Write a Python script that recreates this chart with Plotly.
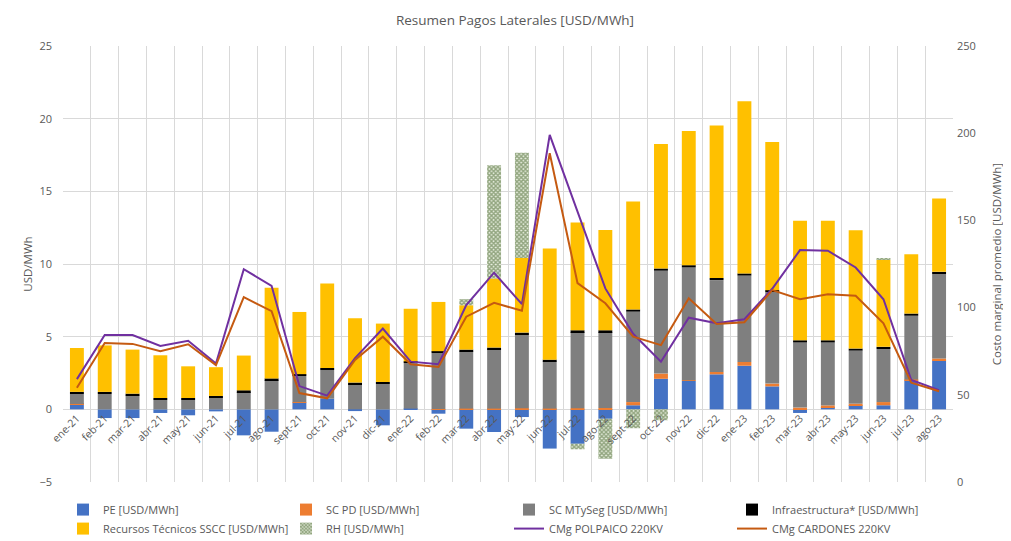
import plotly.graph_objects as go

categories = ['ene-21','feb-21','mar-21','abr-21','may-21','jun-21','jul-21','ago-21','sept-21','oct-21','nov-21','dic-21',
              'ene-22','feb-22','mar-22','abr-22','may-22','jun-22','jul-22','ago-22','sept-22','oct-22','nov-22','dic-22',
              'ene-23','feb-23','mar-23','abr-23','may-23','jun-23','jul-23','ago-23']

pe = [0.35,-0.6,-0.6,-0.25,-0.41,-0.14,-1.79,-1.54,0.48,0.73,-0.12,-1.1,
      0.05,-0.3,-1.33,-1.56,-0.53,-2.7,-2.37,-0.65,0.28,2.1,1.95,2.41,
      3.0,1.58,-0.25,0.15,0.28,0.28,2.0,3.37]
sc_pd = [0.02,0,0,0,0,0,0,0,0.02,0,0,0,
         0,0.02,0.05,0.05,0.08,0.05,0.08,0.1,0.22,0.36,0.05,0.16,
         0.26,0.19,0.12,0.12,0.11,0.22,0.05,0.13]
sc_mtyseg = [0.68,1.05,0.95,0.65,0.65,0.8,1.19,2.0,1.8,1.97,1.72,1.76,
             3.17,3.86,3.94,4.08,5.07,3.25,5.24,5.22,6.22,7.08,7.77,6.32,
             5.94,6.31,4.48,4.33,3.65,3.65,4.39,5.81]
infra = [0.15,0.15,0.13,0.13,0.13,0.12,0.12,0.13,0.12,0.15,0.12,0.12,
         0.08,0.12,0.12,0.12,0.13,0.12,0.12,0.12,0.15,0.15,0.15,0.15,
         0.15,0.12,0.15,0.15,0.14,0.15,0.15,0.15]
rec_tec = [3.02,3.2,3.03,2.94,2.18,1.98,2.39,6.24,4.28,5.8,4.43,4.02,
           3.62,3.39,3.05,4.75,5.14,7.65,7.41,6.9,7.43,8.56,9.23,10.49,
           11.85,10.2,8.22,8.22,8.15,6.0,4.08,5.04]
rh = [0,0,0,0,0,0,0,0,0,0,0,0,
      0,0,0.42,7.8,7.23,0,-0.38,-2.75,-1.3,-0.75,0,0,
      0,0,0,0,0,0.05,0,0]
cmg_polpaico = [59,84.3,84.3,78,81,68,122,112.5,55,49.5,71,88,
                69,67.5,101.5,120,102,199,155,111,85,69,94.2,91,
                93.3,110.8,133,132.6,123,104.8,58.5,52.7]
cmg_cardones = [54,79.7,79.2,75,79,67,106,98,51,48,70,83.3,
                67.5,66,94.8,102.7,98.2,188.5,114,102.5,83.3,78.5,105.3,90.6,
                91.6,110,104.8,107.6,106.8,91,57,52]

left_ticks = [-5, 0, 5, 10, 15, 20, 25]
right_ticks = [0, 50, 100, 150, 200, 250]

FONT = "Open Sans"
TXT = "#595959"
W, H = 1003, 533  # page body adds an 8px offset

fig = go.Figure()
bar_specs = [
    ("PE [USD/MWh]", pe, "#4472C4"),
    ("SC PD [USD/MWh]", sc_pd, "#ED7D31"),
    ("SC MTySeg [USD/MWh]", sc_mtyseg, "#7F7F7F"),
    ("Infraestructura* [USD/MWh]", infra, "#000000"),
    ("Recursos Técnicos SSCC [USD/MWh]", rec_tec, "#FFC000"),
]
for name, vals, col in bar_specs:
    fig.add_trace(go.Bar(x=categories, y=vals, name=name, marker_color=col,
                         marker_line_width=0, yaxis="y"))
fig.add_trace(go.Bar(x=categories, y=rh, name="RH [USD/MWh]", yaxis="y",
                     marker=dict(color="#ffffff", line_width=0,
                                 pattern=dict(shape="x", size=3, solidity=0.7,
                                              fgcolor="#3A5A1E", bgcolor="#e9f0e0"))))
fig.add_trace(go.Scatter(x=categories, y=cmg_polpaico, name="CMg POLPAICO 220KV", mode="lines",
                         line=dict(color="#7030A0", width=2), yaxis="y2"))
fig.add_trace(go.Scatter(x=categories, y=cmg_cardones, name="CMg CARDONES 220KV", mode="lines",
                         line=dict(color="#C55A11", width=2), yaxis="y2"))

fig.update_layout(
    width=W, height=H,
    margin=dict(l=55, r=58, t=38, b=59, autoexpand=False),
    paper_bgcolor="white", plot_bgcolor="white",
    barmode="relative", bargap=0.5,
    font=dict(family=FONT, size=10, color=TXT),
    title=dict(text="Resumen Pagos Laterales [USD/MWh]", x=(515 - 8) / W, xanchor="center",
               y=1 - 12 / H, yanchor="middle", font=dict(size=13.5, color=TXT, family=FONT)),
    xaxis=dict(type="category", tickangle=-45, tickson="boundaries", showgrid=True,
               gridcolor="#D9D9D9", gridwidth=1, ticks="", showline=False,
               anchor="free", position=5/30, tickfont=dict(size=10.5, color=TXT), zeroline=False,
               automargin=False),
    yaxis=dict(range=[-5, 25], tickvals=left_ticks, showgrid=True, gridcolor="#D9D9D9",
               zeroline=False, showline=False, ticks="", tickfont=dict(size=11, color=TXT),
               automargin=False, ticklabelstandoff=10,
               title=dict(text="USD/MWh", font=dict(size=11.5, color=TXT), standoff=4)),
    yaxis2=dict(range=[0, 250], tickvals=right_ticks, overlaying="y", side="right",
                showgrid=False, zeroline=False, showline=False, ticks="",
                tickfont=dict(size=11, color=TXT), automargin=False, ticklabelstandoff=3,
                title=dict(text="Costo marginal promedio [USD/MWh]", font=dict(size=11.5, color=TXT), standoff=18)),
    legend=dict(orientation="h", x=0.0, xanchor="left", y=-0.03, yanchor="top",
                entrywidth=178, entrywidthmode="pixels", traceorder="normal",
                font=dict(size=11, color=TXT), itemwidth=30, tracegroupgap=0),
    showlegend=True,
)

fig.write_html("out.html")
